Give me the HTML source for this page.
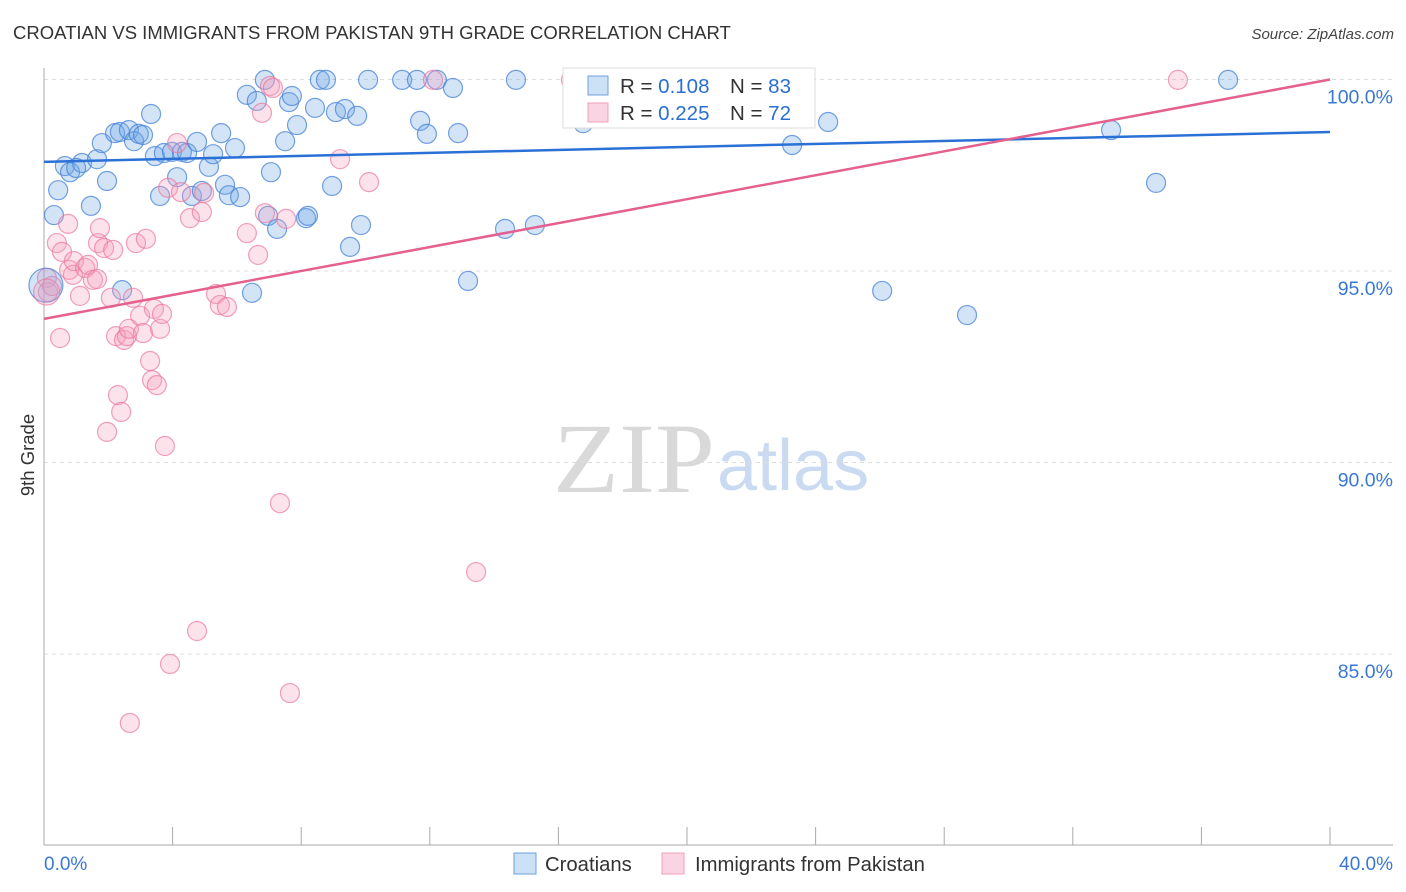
<!DOCTYPE html>
<html><head><meta charset="utf-8"><style>
body{margin:0;background:#fff;font-family:"Liberation Sans",sans-serif;}
svg{display:block}
</style></head><body>
<svg width="1406" height="892" xmlns="http://www.w3.org/2000/svg">
<text x="13" y="39" font-size="18.5" fill="#333">CROATIAN VS IMMIGRANTS FROM PAKISTAN 9TH GRADE CORRELATION CHART</text>
<text x="1394" y="39" font-size="15" font-style="italic" fill="#444" text-anchor="end">Source: ZipAtlas.com</text>
<g>
<text x="553" y="492" font-family="Liberation Serif,serif" font-size="100" fill="#d9d9d9" textLength="162" lengthAdjust="spacingAndGlyphs">ZIP</text>
<text x="717" y="490" font-size="72" fill="#c9daf1">atlas</text>
</g>
<g id="grid"></g>
<g id="axes"></g>
<g id="pts"></g>
<g id="trends"></g>
<text x="34" y="455" font-size="18.5" fill="#333" text-anchor="middle" transform="rotate(-90 34 455)">9th Grade</text>
<g>
<rect x="563" y="68" width="252" height="60" fill="#fff" stroke="#ddd"/>
<rect x="588" y="76" width="20" height="19" fill="rgba(110,165,230,0.35)" stroke="#6ea0dc"/>
<rect x="588" y="103" width="20" height="19" fill="rgba(245,160,190,0.45)" stroke="#f0a0bb"/>
<text x="620" y="93" font-size="20.5" fill="#333">R = <tspan fill="#2a6fd0">0.108</tspan></text>
<text x="730" y="93" font-size="20.5" fill="#333">N = <tspan fill="#2a6fd0">83</tspan></text>
<text x="620" y="120" font-size="20.5" fill="#333">R = <tspan fill="#2a6fd0">0.225</tspan></text>
<text x="730" y="120" font-size="20.5" fill="#333">N = <tspan fill="#2a6fd0">72</tspan></text>
</g>
<g>
<rect x="514" y="853" width="22" height="21" fill="rgba(110,165,230,0.35)" stroke="#6ea0dc"/>
<text x="545" y="871" font-size="20.3" fill="#333">Croatians</text>
<rect x="662" y="853" width="22" height="21" fill="rgba(245,160,190,0.45)" stroke="#f0a0bb"/>
<text x="695" y="871" font-size="20.3" fill="#333">Immigrants from Pakistan</text>
</g>
</svg>
<script>
const xTicks=[0,4,8,12,16,20,24,28,32,36,40];
const yTicks=[100,95,90,85];
const yTickLabels=["100.0%","95.0%","90.0%","85.0%"];
const xEndLabels=["0.0%","40.0%"];
const croatX=[0.65,0.81,1.18,1.00,1.65,0.44,0.31,1.46,1.96,1.80,2.21,2.36,2.64,2.80,2.95,3.08,3.33,3.45,3.73,3.98,4.14,4.29,4.45,3.61,4.60,4.76,4.91,5.13,5.26,5.51,5.63,5.75,5.94,6.10,6.31,6.47,6.62,6.87,6.97,7.06,7.25,7.50,7.62,7.71,7.87,8.15,8.21,8.43,8.58,8.77,8.96,9.08,9.36,9.52,9.74,9.86,10.08,11.14,11.60,11.70,11.91,12.22,12.72,12.88,13.19,14.34,14.68,15.27,16.77,18.04,22.33,22.58,23.27,24.39,26.07,28.71,33.19,34.59,36.83,2.43];
const croatY=[97.74,97.58,97.82,97.69,97.92,97.11,96.46,96.70,97.35,98.34,98.60,98.63,98.68,98.39,98.58,98.55,99.10,98.00,98.08,98.11,97.45,98.11,98.08,96.96,96.96,98.37,97.09,97.72,98.05,98.60,97.25,96.98,98.21,96.93,99.60,94.43,99.44,99.99,96.44,97.58,96.10,98.39,99.41,99.57,98.81,96.38,96.44,99.26,99.99,99.99,97.22,99.15,99.23,95.63,99.05,96.20,99.99,99.99,99.99,98.92,98.58,99.99,99.78,98.60,94.74,96.10,99.99,96.20,98.86,99.99,99.99,99.05,98.29,98.89,94.48,93.85,98.68,97.30,99.99,94.50];
const pakX=[0.09,0.12,0.25,0.50,0.40,0.56,0.75,0.78,0.90,0.93,1.12,1.28,1.37,1.52,1.68,1.87,1.74,1.65,2.08,2.15,2.24,2.30,2.40,1.96,2.49,2.58,2.64,2.77,2.86,2.99,3.08,3.17,3.30,3.36,3.42,3.51,3.61,3.67,3.76,3.86,3.92,4.14,4.26,4.54,4.76,4.91,4.98,5.35,5.47,5.69,6.31,6.66,6.78,6.87,7.03,7.12,7.34,7.53,7.65,9.21,10.11,12.10,13.44,16.39,35.27,2.67];
const pakY=[94.82,94.45,94.61,93.25,95.73,95.50,96.23,95.03,94.90,95.26,94.35,95.08,95.16,94.77,95.73,95.60,96.12,94.79,94.30,95.55,93.30,91.76,91.32,90.80,93.20,93.30,93.49,94.30,95.73,93.83,93.38,95.84,92.65,92.15,94.01,92.02,93.49,93.88,90.43,97.17,84.74,98.34,97.06,96.38,85.60,96.54,97.04,94.40,94.11,94.06,95.99,95.42,99.13,96.51,99.83,99.78,88.94,96.36,83.98,97.92,97.32,99.99,87.14,99.99,99.99,83.20];
const bigX=[0.06,0.08];
const bigY=[94.63,94.45];
const trendXs=[0,40];
const croatTrend=[97.85,98.63];
const pakTrend=[93.75,100.0];

const NS="http://www.w3.org/2000/svg";
const X0=44,X1=1330,Y100=79.5,YPER5=191.5;
function sx(v){return X0+(v-0)/40*(X1-X0);}
function sy(v){return Y100+(100-v)/5*YPER5;}
function mk(tag,attrs,parent){const e=document.createElementNS(NS,tag);for(const k in attrs)e.setAttribute(k,attrs[k]);parent.appendChild(e);return e;}
const grid=document.getElementById('grid'),axes=document.getElementById('axes'),pts=document.getElementById('pts'),tr=document.getElementById('trends');
yTicks.forEach((t,i)=>{
 const l=mk('line',{x1:X0,x2:1393,y1:sy(t),y2:sy(t),stroke:'#ddd','stroke-dasharray':'4,4'},grid);
 
 
 const tx=mk('text',{x:1393,y:sy(t)+24,'font-size':19.5,fill:'#3a78d4','text-anchor':'end'},grid);
 tx.textContent=yTickLabels[i];
 
 
});
const al=mk('line',{x1:X0,x2:X0,y1:68,y2:845,stroke:'#aaa'},axes);


const bl=mk('line',{x1:X0,x2:1393,y1:845,y2:845,stroke:'#aaa'},axes);


xTicks.forEach(t=>{
 const l=mk('line',{x1:sx(t),x2:sx(t),y1:827,y2:845,stroke:'#aaa'},axes);
 
 
});
const xl0=mk('text',{x:X0,y:870,'font-size':19,fill:'#3a78d4'},axes);xl0.textContent=xEndLabels[0];


const xl1=mk('text',{x:1393,y:870,'font-size':19,fill:'#3a78d4','text-anchor':'end'},axes);xl1.textContent=xEndLabels[1];


function dot(x,y,r,blue){
 const c=mk('circle',{cx:sx(x),cy:sy(y),r:r,fill:blue?'rgba(110,165,230,0.3)':'rgba(245,160,190,0.3)',stroke:blue?'rgba(70,130,215,0.75)':'rgba(235,120,160,0.7)','stroke-width':1.2},pts);
 return c;
}
croatX.forEach((x,i)=>{const c=dot(x,croatY[i],9.5,true);
 
 });
pakX.forEach((x,i)=>{const c=dot(x,pakY[i],9.5,false);
 
 });
const b1=dot(bigX[0],bigY[0],17,true);


const b2=dot(bigX[1],bigY[1],13,false);


const t1=mk('line',{x1:sx(trendXs[0]),x2:sx(trendXs[1]),y1:sy(croatTrend[0]),y2:sy(croatTrend[1]),stroke:'#2a70d6','stroke-width':2.5},tr);


const t2=mk('line',{x1:sx(trendXs[0]),x2:sx(trendXs[1]),y1:sy(pakTrend[0]),y2:sy(pakTrend[1]),stroke:'#e5608e','stroke-width':2.5},tr);


</script>
</body></html>
